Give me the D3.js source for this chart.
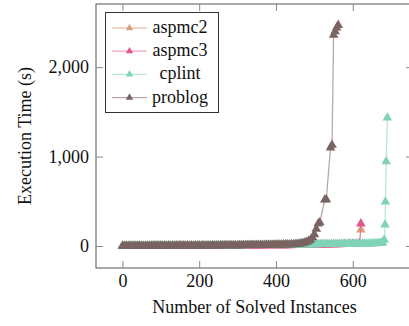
<!DOCTYPE html>
<html>
<head>
<meta charset="utf-8">
<script src="https://cdn.jsdelivr.net/npm/d3@7"></script>
<style>
  body { margin: 0; background: #fff; }
  svg { display: block; font-family: "Liberation Serif", "DejaVu Serif", serif; }
</style>
</head>
<body>
<script>
var w = 409;
var h = 326;

// series names, colours (legend order = drawing order)
var seriesNames = ["aspmc2", "aspmc3", "cplint", "problog"];
var seriesColors = ["#d9a27e", "#e2558f", "#7fd3b8", "#7a6461"];

// cactus data: number of solved instances vs. execution time (s)
var instanceGrid = [0,5,10,15,20,25,30,35,40,45,50,55,60,65,70,75,80,85,90,95,100,105,110,115,120,125,130,135,140,145,150,155,160,165,170,175,180,185,190,195,200,205,210,215,220,225,230,235,240,245,250,255,260,265,270,275,280,285,290,295,300,305,310,315,320,325,330,335,340,345,350,355,360,365,370,375,380,385,390,395,400,405,410,415,420,425,430,435,440,445,450,455,460,465,470,475,480,485,490,495,500,505,510,515,520,525,530,535,540,545,550,555,560,565,570,575,580,585,590,595,600,605,610,615,620,625,630,635,640,645,650,655,660,665,670,675];

var aspmc2Solved = [0,10,20,30,40,50,60,70,80,90,100,110,120,130,140,150,160,170,180,190,200,210,220,230,240,250,260,270,280,290,300,310,320,330,340,350,360,370,380,390,400,410,420,430,440,450,460,470,480,490,500,510,520,530,540,550,560,570,580,590,600,610,618,621];
var aspmc2Time = [0.1,0.1,0.2,0.2,0.3,0.3,0.4,0.4,0.5,0.5,0.6,0.6,0.7,0.8,0.8,0.9,1,1.1,1.2,1.3,1.4,1.5,1.6,1.7,1.8,2,2.1,2.3,2.4,2.6,2.8,3,3.2,3.4,3.6,3.9,4.1,4.4,4.7,5,5.4,5.8,6.2,6.6,7.1,7.6,8.2,8.8,9.5,10,11,12,13,14,15,16,17,18,19,20,21,22,24,182];
var aspmc3Solved = [0,10,20,30,40,50,60,70,80,90,100,110,120,130,140,150,160,170,180,190,200,210,220,230,240,250,260,270,280,290,300,310,320,330,340,350,360,370,380,390,400,410,420,430,440,450,460,470,480,490,500,510,520,530,540,550,560,570,580,590,600,610,618,621];
var aspmc3Time = [0.1,0.1,0.2,0.2,0.3,0.3,0.4,0.4,0.5,0.5,0.6,0.7,0.7,0.8,0.9,1,1,1.1,1.2,1.3,1.4,1.5,1.7,1.8,1.9,2.1,2.2,2.4,2.5,2.7,2.9,3.1,3.3,3.6,3.8,4.1,4.4,4.7,5,5.4,5.8,6.2,6.7,7.2,7.8,8.4,9,9.7,10,11,12,13,14,15,16,17,18,19,20,21,22,23,26,250];

var cplintTailSolved = [678,682,684,685,687,690];
var cplintTime = [
	0.2,0.25,0.3,0.35,0.4,0.45,0.5,0.55,0.6,0.65,
	0.7,0.75,0.8,0.85,0.9,0.95,1,1.05,1.1,1.15,
	1.2,1.3,1.4,1.5,1.6,1.7,1.8,1.9,2,2.1,
	2.2,2.3,2.4,2.5,2.6,2.7,2.8,2.9,3,3.1,
	3.2,3.3,3.4,3.5,3.6,3.7,3.8,3.9,4,4.2,
	4.4,4.6,4.8,5,5.2,5.4,5.6,5.8,6,6.2,
	6.4,6.6,6.8,7,7.2,7.4,7.6,7.8,8,8.3,
	8.6,8.9,9.2,9.5,9.8,10.1,10.4,10.7,11,11.3,
	11.6,11.9,12.2,12.5,12.8,13.1,13.4,13.7,14,14.3,
	14.6,14.9,15.2,15.5,15.8,16.1,16.4,16.7,17,17.3,
	17.6,17.9,18.2,18.5,18.8,19.1,19.4,19.7,20,20.3,
	20.6,20.9,21.2,21.5,21.8,22.1,22.4,22.7,23,23.3,
	23.6,23.9,24.2,24.5,24.8,25.1,25.4,25.7,26,26.5,
	27,28,29,30,32,35,
	40,70,238,495,945,1433];

var problogTailSolved = [450,455,460,465,470,475,480,485,490,495,500,505,510,514,527,531,542,546,550,554,558,562];
var problogTime = [
	0.1,0.15,0.2,0.25,0.3,0.35,0.4,0.45,0.5,0.55,
	0.6,0.65,0.7,0.75,0.8,0.85,0.9,0.95,1,1.05,
	1.1,1.15,1.2,1.3,1.4,1.5,1.6,1.7,1.8,1.9,
	2,2.1,2.2,2.3,2.4,2.5,2.6,2.7,2.8,2.9,
	3,3.1,3.2,3.3,3.4,3.5,3.6,3.8,4,4.2,
	4.4,4.6,4.8,5,5.2,5.4,5.6,5.8,6,6.2,
	6.4,6.6,6.8,7,7.3,7.6,7.9,8.2,8.5,8.8,
	9.1,9.4,9.7,10,10.4,10.8,11.2,11.6,12,12.5,
	13,13.5,14,14.5,15,15.5,16,16.5,17,17.5,
	19,21,24,28,32,38,45,55,70,95,130,190,250,262,517,520,1100,1130,2360,2400,2440,2470];

var cplintSolved = instanceGrid.concat(cplintTailSolved);
var problogSolved = instanceGrid.slice(0, 90).concat(problogTailSolved);

var allSolved = [aspmc2Solved, aspmc3Solved, cplintSolved, problogSolved];
var allTime = [aspmc2Time, aspmc3Time, cplintTime, problogTime];

var xTicks = [0, 200, 400, 600];
var yTicks = [0, 1000, 2000];

var mLeft = 96, mRight = 413, mTop = 4, mBottom = 268;
var fontSize = "18px";
var textCol = "#111";

var xScale = d3.scaleLinear()
				.domain([-68.8, 756.8])
				.range([mLeft, mRight]);

var yScale = d3.scaleLinear()
				.domain([-246, 2706])
				.range([mBottom, mTop]);

var svg = d3.select("body")
			.append("svg")
			.attr("width", w)
			.attr("height", h);

// plot area clip
svg.append("clipPath")
	.attr("id", "plotclip")
	.append("rect")
	.attr("x", mLeft).attr("y", mTop)
	.attr("width", mRight - mLeft).attr("height", mBottom - mTop);

var plot = svg.append("g").attr("clip-path", "url(#plotclip)");

var line = d3.line()
	.x(function(d) { return xScale(d[0]); })
	.y(function(d) { return yScale(d[1]); });

var tri = d3.symbol().type(d3.symbolTriangle).size(40);

seriesNames.forEach(function(name, s) {
	var pts = allSolved[s].map(function(x, i) { return [x, allTime[s][i]]; });
	var g = plot.append("g");
	g.append("path")
		.datum(pts)
		.attr("d", line)
		.attr("fill", "none")
		.attr("stroke", seriesColors[s])
		.attr("stroke-opacity", 0.55)
		.attr("stroke-width", 1.3);
	g.selectAll("path.mark")
		.data(pts)
		.enter()
		.append("path")
		.attr("class", "mark")
		.attr("d", tri)
		.attr("transform", function(d) { return "translate(" + xScale(d[0]) + "," + yScale(d[1]) + ")"; })
		.attr("fill", seriesColors[s]);
});

// frame and ticks (pgfplots style, ticks inward on all sides)
var axisCol = "#555";
var tickLen = 7;
var fmt = d3.format(",");

svg.append("rect")
	.attr("x", mLeft).attr("y", mTop)
	.attr("width", mRight - mLeft).attr("height", mBottom - mTop)
	.attr("fill", "none")
	.attr("stroke", axisCol)
	.attr("stroke-width", 1);

var xAxisB = d3.axisBottom(xScale).tickValues(xTicks).tickFormat(fmt).tickSizeInner(-tickLen).tickSizeOuter(0).tickPadding(6);
var gxb = svg.append("g").attr("transform", "translate(0," + mBottom + ")").call(xAxisB);
var gxt = svg.append("g").attr("transform", "translate(0," + mTop + ")")
	.call(d3.axisTop(xScale).tickValues(xTicks).tickFormat("").tickSizeInner(-tickLen).tickSizeOuter(0));
var yAxisL = d3.axisLeft(yScale).tickValues(yTicks).tickFormat(fmt).tickSizeInner(-tickLen).tickSizeOuter(0).tickPadding(7);
var gyl = svg.append("g").attr("transform", "translate(" + mLeft + ",0)").call(yAxisL);
var gyr = svg.append("g").attr("transform", "translate(" + mRight + ",0)")
	.call(d3.axisRight(yScale).tickValues(yTicks).tickFormat("").tickSizeInner(-tickLen).tickSizeOuter(0));

[gxb, gxt, gyl, gyr].forEach(function(g) {
	g.select(".domain").remove();
	g.selectAll(".tick line").attr("stroke", "#888");
	g.selectAll(".tick text")
		.attr("fill", textCol)
		.attr("font-family", "Liberation Serif")
		.attr("font-size", fontSize);
});

// axis titles
svg.append("text")
	.text("Number of Solved Instances")
	.attr("x", (mLeft + mRight) / 2)
	.attr("y", 313)
	.attr("text-anchor", "middle")
	.attr("font-size", fontSize)
	.attr("fill", textCol);

svg.append("text")
	.text("Execution Time (s)")
	.attr("transform", "translate(31," + (mTop + mBottom) / 2 + ") rotate(-90)")
	.attr("text-anchor", "middle")
	.attr("font-size", fontSize)
	.attr("fill", textCol);

// legend
var legend = svg.append("g");
legend.append("rect")
	.attr("x", 105.5).attr("y", 12.5)
	.attr("width", 113).attr("height", 100)
	.attr("fill", "#fff")
	.attr("stroke", "#333")
	.attr("stroke-width", 1);

var legTri = d3.symbol().type(d3.symbolTriangle).size(24);
seriesNames.forEach(function(name, i) {
	var cy = 28 + i * 23.2;
	legend.append("line")
		.attr("x1", 112).attr("x2", 147)
		.attr("y1", cy).attr("y2", cy)
		.attr("stroke", seriesColors[i])
		.attr("stroke-opacity", 0.55)
		.attr("stroke-width", 1.3);
	legend.append("path")
		.attr("d", legTri)
		.attr("transform", "translate(129.5," + cy + ")")
		.attr("fill", seriesColors[i]);
	legend.append("text")
		.text(name)
		.attr("x", 180)
		.attr("y", cy + 5)
		.attr("text-anchor", "middle")
		.attr("font-size", fontSize)
		.attr("fill", textCol);
});
</script>
</body>
</html>
